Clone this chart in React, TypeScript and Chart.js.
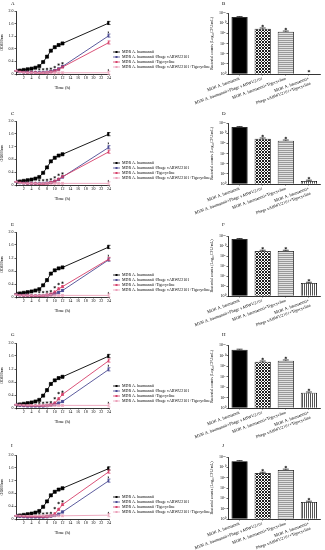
import React, { useEffect, useRef } from "react";
import { Chart, registerables } from "chart.js";
Chart.register(...registerables);

const FONT = "'Liberation Serif', 'Times New Roman', serif";

// ---------- shared labels ----------
const seriesLabels = [
  "MDR A. baumannii",
  "MDR A. baumannii+Phage vABWU2101",
  "MDR A. baumannii+Tigecycline",
  "MDR A. baumannii+Phage vABWU2101+Tigecycline",
];
const barCategories: (string | string[])[] = [
  "MDR A. baumannii",
  "MDR A. baumannii+Phage vABWU2101",
  "MDR A. baumannii+Tigecycline",
  ["MDR A. baumannii+", "Phage vABWU2101+Tigecycline"],
];
const countTickLabels = ["10⁰", "10²", "10⁴", "10⁶", "10⁸", "10¹⁰", "10¹²"];
const seriesColors = ["#000000", "#4b4b93", "#d6406a", "#eba0b9"];
const seriesMarkers = ["rect", "rect", "triangle", "crossRot"];

// ---------- growth curves (OD600nm) ----------
const times = [0, 1, 2, 3, 4, 5, 6, 7, 8, 9, 10, 11, 12, 24];

const odA_control = [0.1, 0.11, 0.13, 0.15, 0.17, 0.2, 0.25, 0.38, 0.55, 0.74, 0.85, 0.92, 0.97, 1.62];
const odA_phage = [0.1, 0.07, 0.06, 0.05, 0.05, 0.05, 0.05, 0.05, 0.06, 0.08, 0.11, 0.16, 0.24, 1.22];
const odA_tig = [0.1, 0.08, 0.06, 0.05, 0.05, 0.05, 0.04, 0.04, 0.05, 0.07, 0.1, 0.15, 0.22, 1.0];
const odA_combo = [0.1, 0.06, 0.05, 0.04, 0.04, 0.04, 0.04, 0.04, 0.04, 0.04, 0.04, 0.04, 0.04, 0.04];
const starA_t = [6, 7, 8, 9, 10, 11, 12, 24, 24];
const starA_v = [0.15, 0.15, 0.16, 0.17, 0.22, 0.3, 0.34, 0.12, 1.32];

const odC_control = [0.1, 0.11, 0.13, 0.15, 0.17, 0.2, 0.25, 0.38, 0.55, 0.74, 0.85, 0.92, 0.96, 1.59];
const odC_phage = [0.1, 0.07, 0.06, 0.05, 0.05, 0.05, 0.05, 0.05, 0.06, 0.08, 0.11, 0.17, 0.25, 1.18];
const odC_tig = [0.1, 0.08, 0.06, 0.05, 0.05, 0.05, 0.04, 0.04, 0.05, 0.08, 0.12, 0.18, 0.26, 1.04];
const odC_combo = [0.1, 0.06, 0.05, 0.05, 0.05, 0.05, 0.05, 0.05, 0.05, 0.05, 0.05, 0.05, 0.05, 0.05];
const starC_t = [6, 7, 8, 9, 10, 11, 12, 24, 24];
const starC_v = [0.15, 0.15, 0.16, 0.18, 0.24, 0.32, 0.36, 0.12, 1.3];

const odE_control = [0.1, 0.11, 0.13, 0.15, 0.17, 0.2, 0.24, 0.36, 0.52, 0.72, 0.82, 0.88, 0.91, 1.54];
const odE_phage = [0.08, 0.06, 0.05, 0.05, 0.04, 0.04, 0.04, 0.04, 0.05, 0.07, 0.1, 0.14, 0.2, 1.15];
const odE_tig = [0.08, 0.06, 0.05, 0.05, 0.04, 0.04, 0.04, 0.04, 0.06, 0.09, 0.15, 0.25, 0.32, 1.17];
const odE_combo = [0.08, 0.05, 0.05, 0.05, 0.05, 0.05, 0.05, 0.05, 0.05, 0.05, 0.05, 0.05, 0.05, 0.05];
const starE_t = [6, 7, 8, 9, 10, 11, 12, 24, 24];
const starE_v = [0.15, 0.15, 0.16, 0.18, 0.3, 0.4, 0.44, 0.12, 1.27];

const odG_control = [0.1, 0.11, 0.13, 0.15, 0.17, 0.2, 0.25, 0.38, 0.55, 0.74, 0.85, 0.92, 0.96, 1.6];
const odG_phage = [0.1, 0.08, 0.07, 0.06, 0.06, 0.06, 0.06, 0.06, 0.07, 0.09, 0.12, 0.15, 0.2, 1.19];
const odG_tig = [0.1, 0.09, 0.08, 0.07, 0.07, 0.07, 0.07, 0.07, 0.08, 0.1, 0.15, 0.28, 0.42, 1.46];
const odG_combo = [0.1, 0.09, 0.09, 0.08, 0.08, 0.08, 0.08, 0.08, 0.08, 0.08, 0.08, 0.08, 0.08, 0.08];
const starG_t = [6, 7, 8, 9, 10, 11, 12, 24, 24];
const starG_v = [0.16, 0.16, 0.17, 0.18, 0.3, 0.46, 0.5, 0.16, 1.3];

const odI_control = [0.1, 0.11, 0.13, 0.15, 0.17, 0.2, 0.25, 0.38, 0.55, 0.74, 0.85, 0.92, 0.96, 1.58];
const odI_phage = [0.1, 0.08, 0.07, 0.06, 0.06, 0.06, 0.06, 0.06, 0.07, 0.09, 0.11, 0.15, 0.22, 1.2];
const odI_tig = [0.1, 0.09, 0.08, 0.07, 0.07, 0.07, 0.07, 0.07, 0.08, 0.1, 0.16, 0.3, 0.45, 1.48];
const odI_combo = [0.1, 0.1, 0.1, 0.1, 0.1, 0.1, 0.1, 0.1, 0.1, 0.1, 0.1, 0.1, 0.1, 0.12];
const starI_t = [6, 7, 8, 9, 10, 11, 12, 24, 24];
const starI_v = [0.17, 0.17, 0.18, 0.19, 0.34, 0.5, 0.55, 0.19, 1.3];

const odErr = [0.01, 0.01, 0.01, 0.01, 0.01, 0.01, 0.01, 0.02, 0.03, 0.03, 0.03, 0.03, 0.03, 0.05];

// ---------- bacterial counts (log10 CFU/mL) ----------
const countsB = [11.2, 8.9, 8.3, 0];
const countsD = [11.2, 8.9, 8.5, 0.6];
const countsF = [11.4, 9.0, 9.0, 2.6];
const countsH = [11.1, 8.8, 9.0, 2.9];
const countsJ = [11.2, 8.9, 9.5, 3.3];
const countErr = [0.1, 0.15, 0.15, 0.15];

// ---------- plugins ----------
const errorBarPlugin = {
  id: "errorBars",
  afterDatasetsDraw(chart: any) {
    const ctx = chart.ctx;
    chart.data.datasets.forEach((ds: any, di: number) => {
      if (!ds.errors) return;
      const meta = chart.getDatasetMeta(di);
      const yScale = chart.scales[meta.yAxisID];
      ctx.save();
      ctx.strokeStyle = ds.errColor || "#000";
      ctx.lineWidth = 0.7;
      meta.data.forEach((el: any, i: number) => {
        const e = ds.errors[i];
        if (!e) return;
        const raw = ds.data[i];
        const v = typeof raw === "object" && raw !== null ? raw.y : raw;
        if (v === null || v === undefined || (ds.type === "bar" && v === 0)) return;
        const yTop = yScale.getPixelForValue(v + e);
        const yBot = ds.type === "bar" ? el.y : yScale.getPixelForValue(v - e);
        const cap = ds.type === "bar" ? 3 : 1.5;
        ctx.beginPath();
        ctx.moveTo(el.x, yBot);
        ctx.lineTo(el.x, yTop);
        ctx.moveTo(el.x - cap, yTop);
        ctx.lineTo(el.x + cap, yTop);
        if (ds.type !== "bar") {
          ctx.moveTo(el.x - cap, yBot);
          ctx.lineTo(el.x + cap, yBot);
        }
        ctx.stroke();
      });
      ctx.restore();
    });
  },
};

const sideLegendPlugin = {
  id: "sideLegend",
  afterDraw(chart: any) {
    const ctx = chart.ctx;
    const area = chart.chartArea;
    const items = chart.data.datasets.filter((d: any) => d.inLegend);
    ctx.save();
    ctx.font = `4px ${FONT}`;
    ctx.textBaseline = "middle";
    items.forEach((d: any, i: number) => {
      const x0 = area.right + 4;
      const y = area.bottom - 22 + i * 5;
      ctx.strokeStyle = d.borderColor;
      ctx.lineWidth = 0.8;
      ctx.beginPath();
      ctx.moveTo(x0, y);
      ctx.lineTo(x0 + 7, y);
      ctx.stroke();
      ctx.fillStyle = d.borderColor;
      ctx.fillRect(x0 + 2.5, y - 1, 2, 2);
      ctx.fillStyle = "#000";
      ctx.fillText(d.label, x0 + 9, y + 0.3);
    });
    ctx.restore();
  },
};

// ---------- line chart ----------
type LineProps = {
  top: number;
  chartTop: number;
  chartBottom: number;
  series: number[][];
  starT: number[];
  starV: number[];
};

function GrowthChart({ top, chartTop, chartBottom, series, starT, starV }: LineProps) {
  const ref = useRef<HTMLCanvasElement>(null);
  const width = 215;
  const height = chartBottom - top + 17;
  useEffect(() => {
    if (!ref.current) return;
    const datasets: any[] = series.map((vals, si) => ({
      type: "line",
      label: seriesLabels[si],
      inLegend: true,
      data: times.map((t, i) => ({ x: t, y: vals[i] })),
      borderColor: seriesColors[si],
      backgroundColor: seriesColors[si],
      borderWidth: 0.9,
      pointStyle: seriesMarkers[si],
      pointRadius: si === 0 ? 2.2 : 1.6,
      pointBorderWidth: 0.6,
      errors: odErr,
      errColor: seriesColors[si],
      order: 4 - si,
    }));
    datasets.push({
      type: "line",
      label: "sig",
      data: starT.map((t, i) => ({ x: t, y: starV[i] })),
      showLine: false,
      pointStyle: "star",
      pointRadius: 1.3,
      borderColor: "#000",
      borderWidth: 0.5,
    });
    const chart = new Chart(ref.current, {
      type: "line",
      data: { datasets },
      options: {
        responsive: false,
        animation: false,
        layout: { padding: { left: 0, top: chartTop - top, right: width - 109, bottom: 0 } },
        plugins: { legend: { display: false }, tooltip: { enabled: false } },
        scales: {
          x: {
            type: "linear",
            min: 0,
            max: 24,
            ticks: {
              stepSize: 2,
              autoSkip: false,
              maxRotation: 0,
              padding: 0.5,
              color: "#000",
              font: { family: FONT, size: 4 },
              callback: (v: any) => (v === 0 ? "" : String(v)),
            },
            grid: { display: true, drawOnChartArea: false, drawTicks: true, tickLength: 1.5, color: "#000", lineWidth: 0.6 },
            border: { color: "#000", width: 0.8 },
            title: { display: true, text: "Time (h)", color: "#000", font: { family: FONT, size: 4.5 }, padding: { top: 1.5, bottom: 0 } },
            afterFit: (s: any) => {
              s.height = 17;
            },
          },
          y: {
            min: 0,
            max: 2,
            ticks: {
              stepSize: 0.2,
              padding: 1,
              color: "#000",
              font: { family: FONT, size: 4 },
              callback: (v: any) => (Math.abs(v) < 1e-9 ? "0" : Number(v).toFixed(1)),
            },
            grid: { display: true, drawOnChartArea: false, drawTicks: true, tickLength: 1.5, color: "#000", lineWidth: 0.6 },
            border: { color: "#000", width: 0.8 },
            title: { display: true, text: "OD600nm", color: "#000", font: { family: FONT, size: 4 }, padding: { top: 0, bottom: 1 } },
            afterFit: (s: any) => {
              s.width = 16;
            },
          },
        },
      } as any,
      plugins: [errorBarPlugin, sideLegendPlugin],
    });
    return () => chart.destroy();
  }, []);
  return (
    <canvas
      ref={ref}
      width={width}
      height={height}
      style={{ position: "absolute", left: 0, top, width, height }}
    />
  );
}

// ---------- bar chart ----------
function makePattern(kind: string): CanvasPattern | string {
  const c = document.createElement("canvas");
  const g = c.getContext("2d");
  if (!g) return "#888";
  if (kind === "check") {
    c.width = 3;
    c.height = 3;
    g.fillStyle = "#ffffff";
    g.fillRect(0, 0, 3, 3);
    g.fillStyle = "#222";
    g.fillRect(0, 0, 1, 1);
    g.fillRect(2, 0, 1, 1);
    g.fillRect(1, 1, 1, 1);
    g.fillRect(0, 2, 1, 1);
    g.fillRect(2, 2, 1, 1);
  } else if (kind === "hstripe") {
    c.width = 2;
    c.height = 2;
    g.fillStyle = "#e2e2e2";
    g.fillRect(0, 0, 2, 2);
    g.fillStyle = "#9a9a9a";
    g.fillRect(0, 0, 2, 1);
  } else {
    c.width = 2;
    c.height = 2;
    g.fillStyle = "#ffffff";
    g.fillRect(0, 0, 2, 2);
    g.fillStyle = "#555";
    g.fillRect(0, 0, 1, 2);
  }
  return g.createPattern(c, "repeat") || "#888";
}

type BarProps = { top: number; chartTop: number; chartBottom: number; counts: number[] };

function CountChart({ top, chartTop, chartBottom, counts }: BarProps) {
  const ref = useRef<HTMLCanvasElement>(null);
  const left = 170;
  const width = 155;
  const height = chartBottom - top + 32;
  useEffect(() => {
    if (!ref.current) return;
    const fills = ["#000000", makePattern("check"), makePattern("hstripe"), makePattern("vstripe")];
    const sig = counts.map((v, i) => (i === 0 ? null : v + 0.55));
    const chart = new Chart(ref.current, {
      type: "bar",
      data: {
        labels: barCategories,
        datasets: [
          {
            type: "bar",
            data: counts,
            backgroundColor: fills,
            borderColor: "#000",
            borderWidth: 0.8,
            barPercentage: 0.7,
            categoryPercentage: 1,
            errors: countErr,
            order: 2,
          } as any,
          {
            type: "line",
            data: sig,
            showLine: false,
            pointStyle: "star",
            pointRadius: 1.3,
            borderColor: "#000",
            borderWidth: 0.5,
            order: 1,
          } as any,
        ],
      },
      options: {
        responsive: false,
        animation: false,
        layout: { padding: { left: 40, top: chartTop - top, right: 1, bottom: 0 } },
        plugins: { legend: { display: false }, tooltip: { enabled: false } },
        scales: {
          x: {
            ticks: {
              autoSkip: false,
              minRotation: 20,
              maxRotation: 20,
              padding: 0.5,
              color: "#000",
              font: { family: FONT, size: 4.3 },
            },
            grid: { display: true, offset: false, drawOnChartArea: false, drawTicks: true, tickLength: 1.5, color: "#000", lineWidth: 0.6 },
            border: { color: "#000", width: 0.8 },
            afterFit: (s: any) => {
              s.height = 32;
            },
          },
          y: {
            min: 0,
            max: 12,
            ticks: {
              stepSize: 2,
              padding: 1,
              color: "#000",
              font: { family: FONT, size: 4 },
              callback: (v: any) => countTickLabels[Math.round(v / 2)] ?? "",
            },
            grid: { display: true, drawOnChartArea: false, drawTicks: true, tickLength: 1.5, color: "#000", lineWidth: 0.6 },
            border: { color: "#000", width: 0.8 },
            title: {
              display: true,
              text: "Bacterial counts (Log₁₀CFU/mL)",
              color: "#000",
              font: { family: FONT, size: 4 },
              padding: { top: 0, bottom: 1 },
            },
            afterFit: (s: any) => {
              s.width = 18;
            },
          },
        },
      } as any,
      plugins: [errorBarPlugin],
    });
    return () => chart.destroy();
  }, []);
  return (
    <canvas
      ref={ref}
      width={width}
      height={height}
      style={{ position: "absolute", left, top, width, height }}
    />
  );
}

const letterStyle = (left: number, top: number): React.CSSProperties => ({
  position: "absolute",
  left,
  top,
  fontFamily: FONT,
  fontSize: 5,
  lineHeight: "5px",
  color: "#000",
});

export default function App() {
  return (
    <div style={{ position: "absolute", left: 0, top: 0, width: 325, height: 550, background: "#fff", overflow: "hidden" }}>
      <GrowthChart top={0} chartTop={11} chartBottom={74} series={[odA_control, odA_phage, odA_tig, odA_combo]} starT={starA_t} starV={starA_v} />
      <GrowthChart top={110} chartTop={121} chartBottom={185} series={[odC_control, odC_phage, odC_tig, odC_combo]} starT={starC_t} starV={starC_v} />
      <GrowthChart top={221} chartTop={232} chartBottom={297} series={[odE_control, odE_phage, odE_tig, odE_combo]} starT={starE_t} starV={starE_v} />
      <GrowthChart top={332} chartTop={343} chartBottom={408} series={[odG_control, odG_phage, odG_tig, odG_combo]} starT={starG_t} starV={starG_v} />
      <GrowthChart top={444} chartTop={455} chartBottom={519} series={[odI_control, odI_phage, odI_tig, odI_combo]} starT={starI_t} starV={starI_v} />

      <CountChart top={0} chartTop={13} chartBottom={74} counts={countsB} />
      <CountChart top={110} chartTop={123} chartBottom={184} counts={countsD} />
      <CountChart top={221} chartTop={236} chartBottom={296} counts={countsF} />
      <CountChart top={332} chartTop={345} chartBottom={408} counts={countsH} />
      <CountChart top={444} chartTop={457} chartBottom={519} counts={countsJ} />

      <div style={letterStyle(11, 1)}>A</div>
      <div style={letterStyle(222, 1)}>B</div>
      <div style={letterStyle(11, 111)}>C</div>
      <div style={letterStyle(222, 111)}>D</div>
      <div style={letterStyle(11, 222)}>E</div>
      <div style={letterStyle(222, 222)}>F</div>
      <div style={letterStyle(11, 332)}>G</div>
      <div style={letterStyle(222, 332)}>H</div>
      <div style={letterStyle(11, 443)}>I</div>
      <div style={letterStyle(222, 443)}>J</div>
    </div>
  );
}
